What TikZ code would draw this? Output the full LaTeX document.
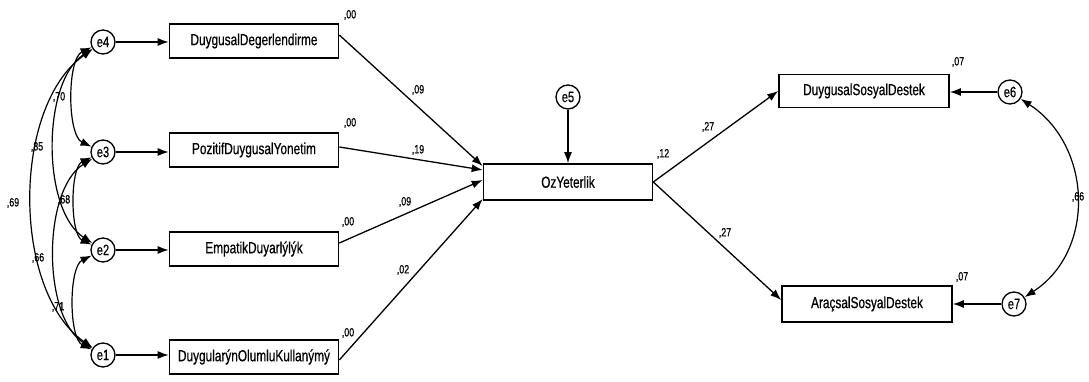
\documentclass[tikz,border=0pt]{standalone}
\usepackage{fontspec}
\setmainfont{Liberation Sans}[FakeStretch=0.74, FakeBold=0.6]
\usetikzlibrary{arrows.meta,positioning,calc}

\begin{document}
\begin{tikzpicture}[x=1pt, y=1pt,
    obs/.style={draw, line width=1.6pt, minimum width=169pt, minimum height=34pt, inner sep=0pt, font=\fontsize{16}{16}\selectfont},
    err/.style={draw, circle, line width=1.3pt, minimum size=24pt, inner sep=0pt, font=\fontsize{15}{15}\selectfont},
    regr/.style={line width=1.3pt, -{Latex[length=11pt,width=8pt]}},
    cov/.style={line width=1.2pt, {Latex[length=11pt,width=8pt]}-{Latex[length=11pt,width=8pt]}},
    coef/.style={inner sep=0pt, font=\fontsize{12}{12}\selectfont}]
    \useasboundingbox (0,0) rectangle (1089,382);

    % error terms
    \node[err] (e4) at (103,340) {e4};
    \node[err] (e3) at (103,230) {e3};
    \node[err] (e2) at (103,132) {e2};
    \node[err] (e1) at (103,27) {e1};
    \node[err] (e5) at (568,285) {e5};
    \node[err] (e6) at (1010,290) {e6};
    \node[err] (e7) at (1014,78) {e7};

    % observed variables
    \node[obs] (degerlendirme) at (254,341) {DuygusalDegerlendirme};
    \node[obs] (yonetim) at (254,232) {PozitifDuygusalYonetim};
    \node[obs] (empati) at (254,133) {EmpatikDuyarlýlýk};
    \node[obs] (kullanim) at (254,25) {DuygularýnOlumluKullanýmý};
    \node[obs, minimum height=36pt] (oz) at (568,200) {OzYeterlik};
    \node[obs, minimum width=170pt, minimum height=33pt] (duygusal) at (864,291) {DuygusalSosyalDestek};
    \node[obs, minimum width=170pt, minimum height=36pt] (aracsal) at (867,78) {AraçsalSosyalDestek};

    % errors into variables
    \draw[regr] (e4) -- (degerlendirme.west |- e4);
    \draw[regr] (e3) -- (yonetim.west |- e3);
    \draw[regr] (e2) -- (empati.west |- e2);
    \draw[regr] (e1) -- (kullanim.west |- e1);
    \draw[regr] (e5) -- (oz);
    \draw[regr] (e6) -- (duygusal.east |- e6);
    \draw[regr] (e7) -- (aracsal.east |- e7);

    % structural paths
    \draw[regr] ([yshift=6pt]degerlendirme.east) -- ([yshift=16pt]oz.west);
    \draw[regr] ([yshift=3pt]yonetim.east) -- ([yshift=12pt]oz.west);
    \draw[regr] ([yshift=6pt]empati.east) -- ([yshift=2pt]oz.west);
    \draw[regr] ([yshift=-3pt]kullanim.east) -- ([yshift=-17pt]oz.west);
    \draw[regr] (oz.east) -- (duygusal.west);
    \draw[regr] (oz.east) -- ([yshift=4pt]aracsal.west);

    % covariances
    \draw[cov] (e4) to[out=205, in=155, looseness=0.7] (e3);
    \draw[cov] (e3) to[out=205, in=155, looseness=0.7] (e2);
    \draw[cov] (e2) to[out=206, in=154, looseness=0.7] (e1);
    \draw[cov] (e4) to[out=213, in=147, looseness=0.8] (e2);
    \draw[cov] (e3) to[out=212, in=148, looseness=0.8] (e1);
    \draw[cov] (e4) to[out=215, in=145, looseness=0.85] (e1);
    \draw[cov] (e6) to[out=327, in=33, looseness=1.1] (e7);

    % estimates
    \node[coef] (r1) at (350,367) {,00};
    \node[coef] (r2) at (350,259) {,00};
    \node[coef] (r3) at (348,160) {,00};
    \node[coef] (r4) at (348,49) {,00};
    \node[coef] (roz) at (663,228) {,12};
    \node[coef] (rds) at (958,320) {,07};
    \node[coef] (ras) at (962,105) {,07};
    \node[coef] (b1) at (418,292) {,09};
    \node[coef] (b2) at (418,232) {,19};
    \node[coef] (b3) at (405,180) {,09};
    \node[coef] (b4) at (403,112) {,02};
    \node[coef] (b5) at (708,255) {,27};
    \node[coef] (b6) at (725,149) {,27};
    \node[coef] (c43) at (59,285) {,70};
    \node[coef] (c42) at (37,235) {,85};
    \node[coef] (c32) at (64,182) {,68};
    \node[coef] (c41) at (13,179) {,69};
    \node[coef] (c31) at (38,124) {,66};
    \node[coef] (c21) at (58,75) {,71};
    \node[coef] (c67) at (1078,185) {,66};
\end{tikzpicture}
\end{document}
